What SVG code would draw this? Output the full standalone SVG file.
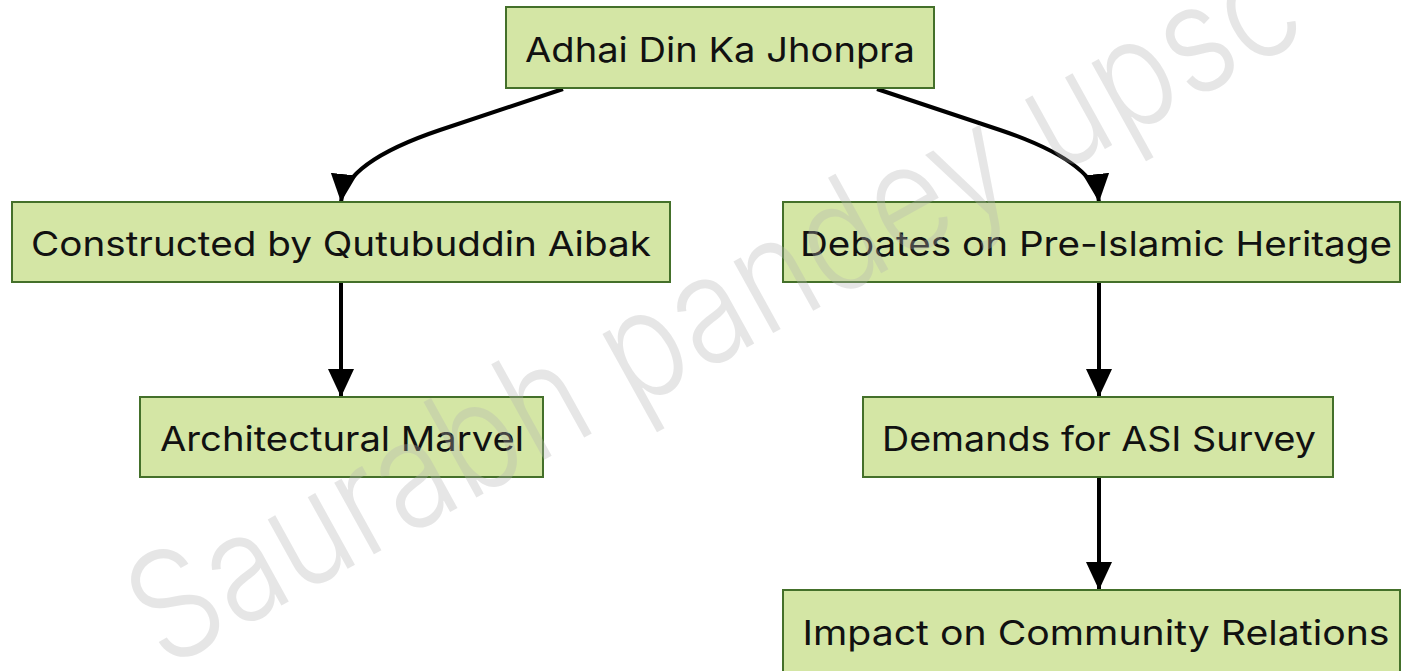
<svg xmlns="http://www.w3.org/2000/svg" width="1402" height="671" viewBox="0 0 1402 671">
<style>
.box{fill:#d4e6a5;stroke:#44702a;stroke-width:2}
.lbl{font-family:Inter,"Noto Sans","Liberation Sans",sans-serif;font-size:34px;fill:#111;text-anchor:middle}
.edge{fill:none;stroke:#000;stroke-width:4}
.wm{font-family:Inter,"Noto Sans","Liberation Sans",sans-serif;font-size:150px;font-weight:300;fill:#b4b4b4;opacity:0.32}
</style>
<defs>
<marker id="arr" viewBox="0 0 28 26" refX="28" refY="13" markerWidth="28" markerHeight="26" markerUnits="userSpaceOnUse" orient="auto">
<path d="M0,0 L28,13 L0,26 Z" fill="#000"/>
</marker>
</defs>
<rect width="1402" height="671" fill="#fff"/>
<g id="connectors">
<path class="edge" d="M563,89 L440,130 Q345,162 341,202" marker-end="url(#arr)"/>
<path class="edge" d="M877,89 L1000,130 Q1095,162 1099,202" marker-end="url(#arr)"/>
<path class="edge" d="M341,282 L341,397" marker-end="url(#arr)"/>
<path class="edge" d="M1099,282 L1099,397" marker-end="url(#arr)"/>
<path class="edge" d="M1099,477 L1099,590" marker-end="url(#arr)"/>
</g>
<g id="n1"><rect class="box" x="506" y="7" width="428" height="81"/><text class="lbl" x="720" y="62" textLength="390" lengthAdjust="spacingAndGlyphs">Adhai Din Ka Jhonpra</text></g>
<g id="n2"><rect class="box" x="12" y="202" width="658" height="80"/><text class="lbl" x="341" y="256" textLength="620" lengthAdjust="spacingAndGlyphs">Constructed by Qutubuddin Aibak</text></g>
<g id="n3"><rect class="box" x="783" y="202" width="617" height="80"/><text class="lbl" x="1096" y="256" textLength="592" lengthAdjust="spacingAndGlyphs">Debates on Pre-Islamic Heritage</text></g>
<g id="n4"><rect class="box" x="140" y="397" width="403" height="80"/><text class="lbl" x="342" y="451" textLength="364" lengthAdjust="spacingAndGlyphs">Architectural Marvel</text></g>
<g id="n5"><rect class="box" x="863" y="397" width="470" height="80"/><text class="lbl" x="1099" y="451" textLength="434" lengthAdjust="spacingAndGlyphs">Demands for ASI Survey</text></g>
<g id="n6"><rect class="box" x="783" y="590" width="617" height="82"/><text class="lbl" x="1096" y="645" textLength="587" lengthAdjust="spacingAndGlyphs">Impact on Community Relations</text></g>
<text class="wm" transform="translate(165,670) rotate(-29)" textLength="1310" lengthAdjust="spacingAndGlyphs">Saurabh pandey upsc</text>
</svg>
